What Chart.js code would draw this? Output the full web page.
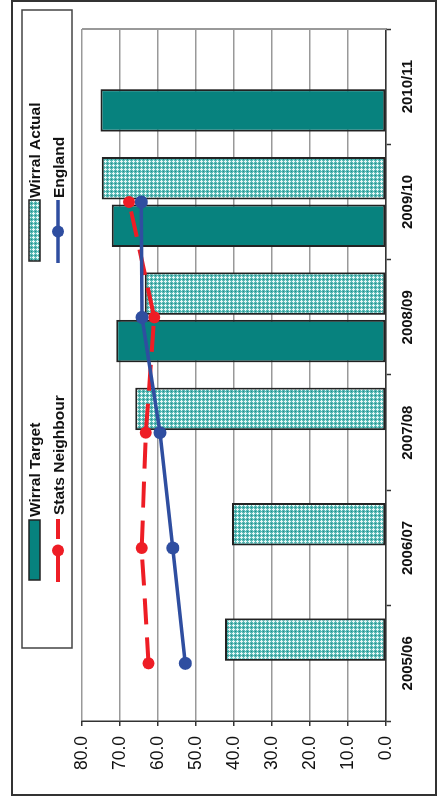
<!DOCTYPE html>
<html>
<head>
<meta charset="utf-8">
<script src="https://cdn.jsdelivr.net/npm/chart.js@4.4.1/dist/chart.umd.min.js"></script>
<style>
  html, body { margin: 0; padding: 0; overflow: hidden; background: #fff; width: 440px; height: 803px; }
  /* the chart is laid out landscape and turned a quarter turn to stand upright on the page */
  #wrap { position: absolute; left: 0; top: 0; width: 803px; height: 440px;
          transform-origin: 0 0; transform: translateY(803px) rotate(-90deg); }
  canvas { display: block; }
</style>
</head>
<body>
<div id="wrap"><canvas id="c" width="803" height="440"></canvas></div>
<script>
// ---- data ----
const years = ['2005/06', '2006/07', '2007/08', '2008/09', '2009/10', '2010/11'];
const wirralTarget = [null, null, null, 71.0, 72.2, 75.1];
const wirralActual = [42.4, 40.5, 66.0, 63.5, 74.8, null];
const statsNeighbour = [62.5, 64.3, 63.2, 61.0, 67.6, null];
const england = [52.8, 56.1, 59.5, 64.2, 64.4, null];
const valueMin = 0, valueMax = 80, valueStep = 10;
const seriesNames = ['Wirral Target', 'Wirral Actual', 'Stats Neighbour', 'England'];

// ---- styles ----
const FONT = '"Liberation Sans", Arial, Helvetica, sans-serif';
const TEAL = '#07827e';
const RED = '#ee1d25';
const BLUE = '#2f4ea0';
const DARK = '#222';

const canvas = document.getElementById('c');
const ctx = canvas.getContext('2d');

// small confetti fill for the "actual" bars
function makeConfetti() {
  const p = document.createElement('canvas');
  p.width = 4; p.height = 4;
  const g = p.getContext('2d');
  g.fillStyle = '#56b8b4'; g.fillRect(0, 0, 4, 4);
  g.fillStyle = '#e6f7f6';
  [[1, 0], [0, 1], [1, 1], [2, 1], [1, 2]].forEach(([x, y]) => g.fillRect(x, y, 1, 1));
  g.fillStyle = '#1f8884'; g.fillRect(3, 3, 1, 1);
  return ctx.createPattern(p, 'repeat');
}
const confetti = makeConfetti();

const framePlugin = {
  id: 'frame',
  beforeDraw(chart) {
    const c = chart.ctx;
    c.save();
    c.fillStyle = '#fff';
    c.fillRect(0, 0, chart.width, chart.height);
    c.strokeStyle = '#333';
    c.lineWidth = 2;
    c.strokeRect(8, 12, 794, 424);
    c.restore();
  },
  beforeDatasetsDraw(chart) {
    const a = chart.chartArea;
    const c = chart.ctx;
    c.save();
    c.strokeStyle = '#999';
    c.lineWidth = 2;
    c.beginPath();
    c.moveTo(a.right, a.top);
    c.lineTo(a.right, a.bottom);
    c.stroke();
    c.restore();
  },
  afterDraw(chart) {
    const c = chart.ctx;
    c.save();
    // legend box
    c.strokeStyle = '#444';
    c.lineWidth = 1.5;
    c.strokeRect(155, 22, 638, 50);
    c.font = 'bold 15.5px ' + FONT;
    c.fillStyle = '#111';
    c.textBaseline = 'alphabetic';
    c.textAlign = 'left';

    // Wirral Target
    c.fillStyle = TEAL;
    c.fillRect(223, 29, 60, 11);
    c.strokeStyle = DARK; c.lineWidth = 1.5;
    c.strokeRect(223, 29, 60, 11);
    c.fillStyle = '#111';
    c.fillText(seriesNames[0], 286, 40);

    // Wirral Actual
    c.fillStyle = confetti;
    c.fillRect(542, 29, 61, 11);
    c.strokeRect(542, 29, 61, 11);
    c.fillStyle = '#111';
    c.fillText(seriesNames[1], 605, 40);

    // Stats Neighbour
    c.strokeStyle = RED; c.lineWidth = 4;
    c.beginPath();
    c.moveTo(221, 58); c.lineTo(258, 58);
    c.moveTo(264, 58); c.lineTo(284, 58);
    c.stroke();
    c.fillStyle = RED;
    c.beginPath(); c.arc(252.5, 58, 6, 0, Math.PI * 2); c.fill();
    c.fillStyle = '#111';
    c.fillText(seriesNames[2], 288, 64);

    // England
    c.strokeStyle = BLUE; c.lineWidth = 3.5;
    c.beginPath();
    c.moveTo(540, 58); c.lineTo(603, 58);
    c.stroke();
    c.fillStyle = BLUE;
    c.beginPath(); c.arc(571.5, 58, 6, 0, Math.PI * 2); c.fill();
    c.fillStyle = '#111';
    c.fillText(seriesNames[3], 605, 64);
    c.restore();
  }
};

new Chart(canvas, {
  type: 'bar',
  data: {
    labels: years,
    datasets: [
      {
        type: 'line', label: seriesNames[3], data: england, order: 0,
        borderColor: BLUE, backgroundColor: BLUE, borderWidth: 3.5,
        pointRadius: 6.5, pointBorderWidth: 0, pointBackgroundColor: BLUE, tension: 0
      },
      {
        type: 'line', label: seriesNames[2], data: statsNeighbour, order: 1,
        borderColor: RED, backgroundColor: RED, borderWidth: 4, borderDash: [26, 13],
        pointRadius: 6, pointBorderWidth: 0, pointBackgroundColor: RED, tension: 0
      },
      {
        label: seriesNames[0], data: wirralTarget, order: 2,
        backgroundColor: TEAL, borderColor: DARK, borderWidth: 2, borderSkipped: false,
        categoryPercentage: 0.824, barPercentage: 0.895
      },
      {
        label: seriesNames[1], data: wirralActual, order: 2,
        backgroundColor: confetti, borderColor: DARK, borderWidth: 2, borderSkipped: false,
        categoryPercentage: 0.824, barPercentage: 0.895
      }
    ]
  },
  options: {
    responsive: false,
    animation: false,
    devicePixelRatio: 1,
    layout: { padding: { left: 0, right: 29, top: 82, bottom: 0 } },
    plugins: { legend: { display: false }, tooltip: { enabled: false } },
    scales: {
      x: {
        grid: { display: true, drawOnChartArea: false, drawTicks: true, tickLength: 5,
                tickColor: '#333', tickWidth: 1.5, offset: true },
        border: { display: true, color: '#333', width: 1.5 },
        ticks: { font: { family: FONT, size: 15, weight: 'bold' }, color: '#111',
                 padding: 8, maxRotation: 0, autoSkip: false },
        afterFit(s) { s.height = 54; }
      },
      y: {
        min: valueMin, max: valueMax,
        ticks: { stepSize: valueStep, callback: v => Number(v).toFixed(1),
                 font: { family: FONT, size: 17.5 }, color: '#111', padding: 10 },
        grid: { color: '#999', lineWidth: 1.5, tickColor: '#333', tickLength: 5, tickWidth: 1.5 },
        border: { display: true, color: '#333', width: 1.5 },
        afterFit(s) { s.width = 82; }
      }
    }
  },
  plugins: [framePlugin]
});
</script>
</body>
</html>
